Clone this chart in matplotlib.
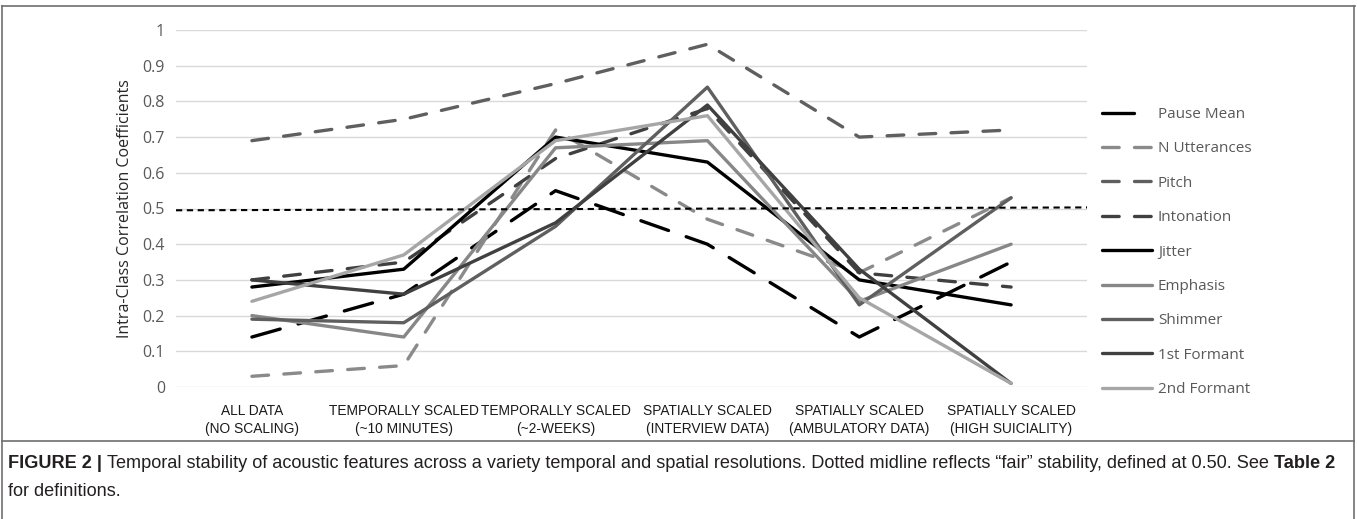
import matplotlib
matplotlib.use("Agg")
import matplotlib.pyplot as plt
from matplotlib import font_manager
from matplotlib.lines import Line2D

categories = [
    "ALL DATA\n(NO SCALING)",
    "TEMPORALLY SCALED\n(~10 MINUTES)",
    "TEMPORALLY SCALED\n(~2-WEEKS)",
    "SPATIALLY SCALED\n(INTERVIEW DATA)",
    "SPATIALLY SCALED\n(AMBULATORY DATA)",
    "SPATIALLY SCALED\n(HIGH SUICIALITY)",
]

pause_mean = [0.14, 0.26, 0.55, 0.40, 0.14, 0.35]
n_utterances = [0.03, 0.06, 0.72, 0.47, 0.32, 0.53]
pitch = [0.69, 0.75, 0.85, 0.96, 0.70, 0.72]
intonation = [0.30, 0.35, 0.64, 0.78, 0.32, 0.28]
jitter = [0.28, 0.33, 0.70, 0.63, 0.30, 0.23]
emphasis = [0.20, 0.14, 0.67, 0.69, 0.24, 0.40]
shimmer = [0.19, 0.18, 0.45, 0.84, 0.23, 0.53]
formant_1 = [0.30, 0.26, 0.46, 0.79, 0.33, 0.01]
formant_2 = [0.24, 0.37, 0.69, 0.76, 0.25, 0.01]

midline = [0.495, 0.503]
yticks = [0, 0.1, 0.2, 0.3, 0.4, 0.5, 0.6, 0.7, 0.8, 0.9, 1]
ytick_labels = ["0", "0.1", "0.2", "0.3", "0.4", "0.5", "0.6", "0.7", "0.8", "0.9", "1"]

W, H = 1357, 519
installed = {f.name for f in font_manager.fontManager.ttflist}
narrow = "Liberation Sans Narrow" if "Liberation Sans Narrow" in installed else "Liberation Sans"
ui = "Open Sans" if "Open Sans" in installed else "DejaVu Sans"

fig = plt.figure(figsize=(W / 100, H / 100), dpi=100)
ax = fig.add_axes([176 / W, 1 - 387 / H, (1087 - 176) / W, (387 - 30) / H])

long_dash = (0, (8.8, 5.6))
dash = (0, (5.0, 4.6))
series = [
    ("Pause Mean", pause_mean, "#000000", long_dash),
    ("N Utterances", n_utterances, "#8a8a8a", dash),
    ("Pitch", pitch, "#5f5f5f", dash),
    ("Intonation", intonation, "#404040", dash),
    ("Jitter", jitter, "#000000", "-"),
    ("Emphasis", emphasis, "#878787", "-"),
    ("Shimmer", shimmer, "#5f5f5f", "-"),
    ("1st Formant", formant_1, "#404040", "-"),
    ("2nd Formant", formant_2, "#a6a6a6", "-"),
]

x = list(range(len(categories)))
handles = []
for name, vals, color, ls in series:
    ax.plot(x, vals, color=color, lw=2.4, ls=ls, label=name,
            dash_capstyle="round", solid_capstyle="round", clip_on=False)
    # legend sample: the long dash only shows its first stroke in the reference
    hls = (0, (9.6, 20)) if ls is long_dash else ls
    handles.append(Line2D([], [], color=color, lw=2.4, ls=hls,
                          dash_capstyle="round", solid_capstyle="round"))

ax.plot([-0.5, 5.5], midline, color="#000000", lw=1.5, ls=(0, (3.0, 2.2)), clip_on=False)

ax.set_xlim(-0.5, 5.5)
ax.set_ylim(0, 1)
ax.set_yticks(yticks, ytick_labels)
ax.set_xticks(x, categories)
ax.grid(axis="y", color="#d9d9d9", lw=1.0)
ax.set_axisbelow(True)
for s in ax.spines.values():
    s.set_visible(False)
ax.tick_params(axis="y", length=0, pad=8, labelcolor="#595959", labelsize=11.5)
ax.tick_params(axis="x", length=0, pad=12)
for lab in ax.get_yticklabels():
    lab.set_fontfamily(ui)
for lab in ax.get_xticklabels():
    lab.set_fontfamily(narrow)
    lab.set_linespacing(1.4)
    lab.set_color("#1a1a1a")

ax.set_ylabel("Intra-Class Correlation Coefficients", fontsize=11.5, family=ui,
              color="#262626", va="center")
ax.yaxis.set_label_coords((125 - 176) / 911, 0.5)

fig.canvas.draw()
renderer = fig.canvas.get_renderer()

# fit the category labels to their width in the reference
probe = ax.get_xticklabels()[1]
probe.set_fontsize(11)
w = probe.get_window_extent(renderer).width
cat_fs = 11 * 150 / w
for lab in ax.get_xticklabels():
    lab.set_fontsize(cat_fs)

leg = fig.legend(handles, [s[0] for s in series], loc="upper left",
                 bbox_to_anchor=(1102 / W, 1 - 107 / H),
                 frameon=False, prop={"family": ui, "size": 11},
                 handlelength=3.3, handletextpad=0.35, labelspacing=1.27,
                 borderpad=0, borderaxespad=0)
for t in leg.get_texts():
    t.set_color("#595959")

# frame around the figure panel
frame = "#6e6e6e"
fig.add_artist(Line2D([2 / W, 1 - 2 / W], [1 - 6 / H, 1 - 6 / H], color=frame, lw=1.2))
fig.add_artist(Line2D([2 / W, 2 / W], [0, 1 - 6 / H], color=frame, lw=1.2))
fig.add_artist(Line2D([1 - 3 / W, 1 - 3 / W], [0, 1 - 6 / H], color=frame, lw=1.2))
fig.add_artist(Line2D([2 / W, 1 - 3 / W], [1 - 441 / H, 1 - 441 / H], color=frame, lw=1.2))

# caption, bold and regular pieces placed one after another
cap = "Liberation Sans"
cap_color = "#231f20"
pieces = [
    ("FIGURE 2 | ", "bold"),
    ("Temporal stability of acoustic features across a variety temporal and spatial "
     "resolutions. Dotted midline reflects \u201cfair\u201d stability, defined at 0.50. See ", "normal"),
    ("Table 2", "bold"),
]


def place_line(parts, y, fs):
    xpos = 8
    texts = []
    for txt, weight in parts:
        t = fig.text(xpos / W, 1 - y / H, txt, family=cap, fontsize=fs, weight=weight,
                     color=cap_color, va="center", ha="left")
        xpos += t.get_window_extent(renderer).width
        texts.append(t)
    return texts, xpos


trial, end = place_line(pieces, 464, 12)
for t in trial:
    t.remove()
cap_fs = 12 * (1343 - 8) / (end - 8)
place_line(pieces, 464, cap_fs)
place_line([("for definitions.", "normal")], 491, cap_fs)

fig.savefig("out.png", dpi=100)
